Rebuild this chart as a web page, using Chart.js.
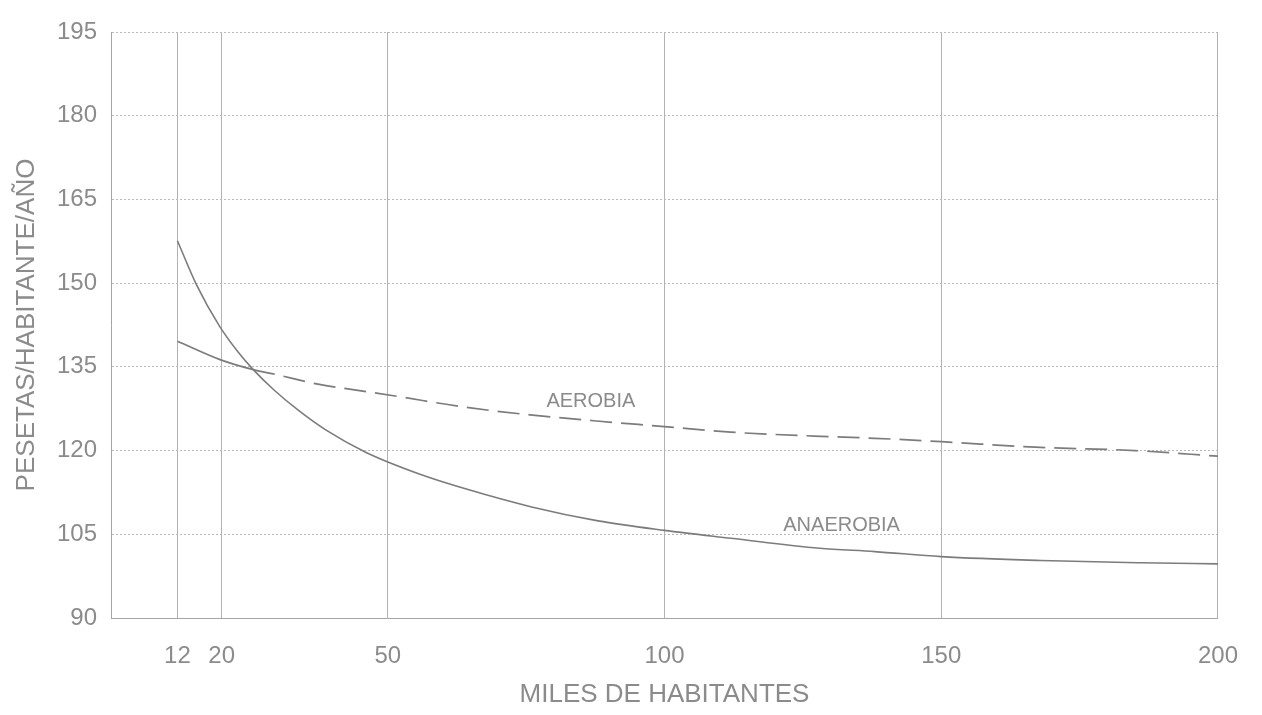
<!DOCTYPE html>
<html lang="es">
<head>
<meta charset="utf-8">
<title>Coste por habitante: depuración aerobia y anaerobia</title>
<script src="https://cdn.jsdelivr.net/npm/chart.js@4.4.1/dist/chart.umd.min.js"></script>
<style>
  html, body { margin: 0; padding: 0; background: #fff; }
  #wrap { width: 1262px; height: 715px; position: relative; }
</style>
</head>
<body>
<div id="wrap"><canvas id="costChart"></canvas></div>
<script>
// Datos (miles de habitantes -> pesetas/habitante/año)
const anaerobiaX = [12, 15.5, 19.6, 23, 25.7, 29.4, 34, 38.8, 46, 55.7, 64.2, 76, 88, 100, 112, 128, 138, 150, 168, 186, 200];
const anaerobiaY = [157.6, 149.6, 142.3, 137.6, 134.5, 130.9, 127.1, 123.7, 119.7, 115.8, 113.1, 109.9, 107.4, 105.7, 104.3, 102.5, 101.9, 101.0, 100.3, 99.9, 99.7];

const aerobiaX = [12, 19.7, 25.7, 29.9, 37.4, 44.6, 51.8, 63.8, 75.7, 87.7, 100, 112, 127, 138, 150, 167, 185, 200];
const aerobiaY = [139.6, 136.3, 134.5, 133.6, 131.9, 130.8, 129.7, 127.8, 126.4, 125.3, 124.3, 123.3, 122.6, 122.2, 121.6, 120.6, 120.0, 119.0];

// Ticks del eje X (no son equidistantes en el original)
const xTickValues = [12, 20, 50, 100, 150, 200];

// Nombre de cada curva, colocado en unidades de datos
const curveNames = ['AEROBIA', 'ANAEROBIA'];
const curveNameX = [86.7, 132];
const curveNameY = [128.8, 106.5];

// A partir de aquí la curva aerobia se dibuja discontinua
const aerobiaDashFrom = 25.7;

const textColor = '#8b8b8b';
const lineColor = '#7c7c7c';

Chart.defaults.font.family = '"Liberation Sans", Arial, sans-serif';
Chart.defaults.color = textColor;

const toPoints = (xs, ys) => xs.map((x, i) => ({ x, y: ys[i] }));

// Plugin sencillo para escribir el nombre junto a cada curva
const curveLabels = {
    id: 'curveLabels',
    afterDatasetsDraw(chart) {
        const { ctx, scales } = chart;
        ctx.save();
        ctx.font = '20px "Liberation Sans", Arial, sans-serif';
        ctx.fillStyle = textColor;
        ctx.textAlign = 'center';
        ctx.textBaseline = 'middle';
        curveNames.forEach((name, i) => {
            ctx.fillText(name, scales.x.getPixelForValue(curveNameX[i]), scales.y.getPixelForValue(curveNameY[i]));
        });
        ctx.restore();
    }
};

const ctx = document.getElementById('costChart').getContext('2d');

new Chart(ctx, {
    type: 'line',
    data: {
        datasets: [
            {
                label: 'ANAEROBIA',
                data: toPoints(anaerobiaX, anaerobiaY),
                borderColor: lineColor,
                borderWidth: 1.6,
                pointRadius: 0,
                cubicInterpolationMode: 'monotone',
                fill: false
            },
            {
                label: 'AEROBIA',
                data: toPoints(aerobiaX, aerobiaY),
                borderColor: lineColor,
                borderWidth: 1.7,
                pointRadius: 0,
                cubicInterpolationMode: 'monotone',
                fill: false,
                segment: {
                    borderDash: c => c.p0.parsed.x >= aerobiaDashFrom ? [22, 9] : undefined
                }
            }
        ]
    },
    options: {
        responsive: true,
        maintainAspectRatio: false,
        animation: false,
        layout: {
            padding: { left: 11, top: 32, right: 32, bottom: 5 }
        },
        plugins: {
            legend: { display: false },
            tooltip: { enabled: false }
        },
        scales: {
            x: {
                type: 'linear',
                min: 0,
                max: 200,
                afterBuildTicks: scale => {
                    scale.ticks = xTickValues.map(v => ({ value: v }));
                },
                afterFit: scale => {
                    scale.height = 92;
                },
                ticks: {
                    autoSkip: false,
                    maxRotation: 0,
                    padding: 24,
                    font: { size: 24 },
                    color: textColor
                },
                grid: {
                    color: '#b2b2b2',
                    lineWidth: 1,
                    drawTicks: false
                },
                border: { color: '#a4a4a4' },
                title: {
                    display: true,
                    text: 'MILES DE HABITANTES',
                    color: textColor,
                    font: { size: 26 },
                    padding: { top: 4, bottom: 0 }
                }
            },
            y: {
                min: 90,
                max: 195,
                afterFit: scale => {
                    scale.width = 100;
                },
                ticks: {
                    stepSize: 15,
                    padding: 14,
                    font: { size: 24 },
                    color: textColor
                },
                grid: {
                    color: '#b8b8b8',
                    lineWidth: 1,
                    drawTicks: false
                },
                border: { color: '#a4a4a4', dash: [2, 2] },
                title: {
                    display: true,
                    text: 'PESETAS/HABITANTE/AÑO',
                    color: textColor,
                    font: { size: 26 },
                    padding: { top: 0, bottom: 0 }
                }
            }
        }
    },
    plugins: [curveLabels]
});
</script>
</body>
</html>
